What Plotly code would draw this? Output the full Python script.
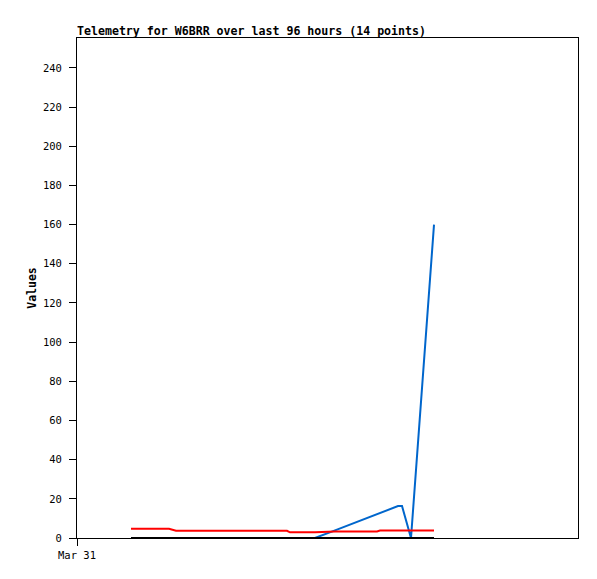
import pandas as pd
import plotly.graph_objects as go

base = pd.Timestamp("2024-03-31 00:00")
hours = [10.35, 17.63, 18.97, 29.32, 40.24, 40.81, 45.60, 49.44, 57.49, 58.06, 61.51, 62.28, 64.00, 68.41]
red_vals = [4.7, 4.7, 3.7, 3.7, 3.7, 2.9, 2.9, 3.3, 3.3, 3.8, 3.8, 3.8, 3.8, 3.8]
blue_vals = [0, 0, 0, 0, 0, 0, 0, 3.9, 12.2, 12.8, 16.3, 16.3, 0, 160]
black_vals = [0] * 14
times = [base + pd.Timedelta(hours=h) for h in hours]

x_start = base
x_end = base + pd.Timedelta(hours=96)
x_tick_vals = [base]
x_tick_text = ["Mar 31"]

fig = go.Figure()
fig.add_trace(go.Scatter(x=times, y=blue_vals, mode="lines", line=dict(color="#0066cc", width=2), showlegend=False))
fig.add_trace(go.Scatter(x=times, y=red_vals, mode="lines", line=dict(color="#ff0000", width=2), showlegend=False))
fig.add_trace(go.Scatter(x=times, y=black_vals, mode="lines", line=dict(color="#000000", width=2), showlegend=False))

W, H = 589, 571
mono = "DejaVu Sans Mono"
fig.update_layout(
    width=W, height=H,
    margin=dict(l=69, r=19, t=30, b=41),
    paper_bgcolor="white", plot_bgcolor="white",
    title=dict(text="<b>Telemetry for W6BRR over last 96 hours (14 points)</b>",
               font=dict(family=mono, size=11.6, color="black"),
               x=69/W, xanchor="left", xref="container",
               y=1 - 23/H, yanchor="middle", yref="container"),
    font=dict(family=mono, size=10.5, color="black"),
)
fig.update_xaxes(range=[x_start, x_end], tickvals=x_tick_vals, ticktext=x_tick_text,
                 showgrid=False, zeroline=False, showline=True, linecolor="black", linewidth=1,
                 mirror=True, ticks="outside", ticklen=7, tickcolor="black",
                 tickfont=dict(family=mono, size=10.5))
fig.update_yaxes(range=[0, 255.3], dtick=20, tick0=0,
                 showgrid=False, zeroline=False, showline=True, linecolor="black", linewidth=1,
                 mirror=True, ticks="outside", ticklen=7, tickcolor="black", ticklabelstandoff=5,
                 tickfont=dict(family=mono, size=10.5),
                 title=dict(text="<b>Values</b>", font=dict(family=mono, size=11.5), standoff=3))
fig.write_html("out.html")
